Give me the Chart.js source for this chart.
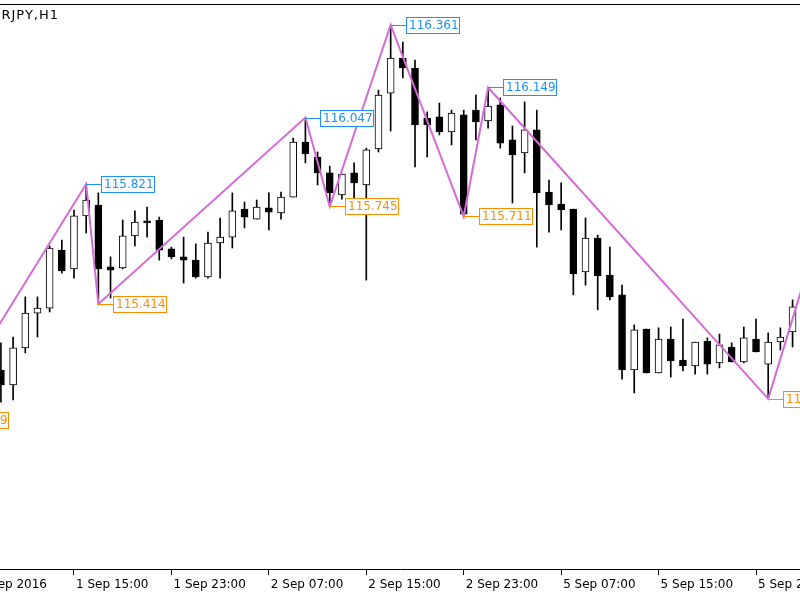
<!DOCTYPE html>
<html>
<head>
<meta charset="utf-8">
<title>EURJPY,H1</title>
<script src="https://cdn.jsdelivr.net/npm/chart.js@4.4.1/dist/chart.umd.min.js"></script>
<style>
  html, body { margin: 0; padding: 0; background: #fff; }
  #wrap { width: 800px; height: 600px; }
</style>
</head>
<body>
<div id="wrap"><canvas id="chart"></canvas></div>
<script>
// EURJPY H1 candles, bar 0 = 1 Sep 15:00, first candle on screen = 1 Sep 09:00
const symbolTitle = 'EURJPY,H1';
const firstBar = -6;

const opens  = [115.190, 115.139, 115.265, 115.383, 115.400, 115.597, 115.533, 115.713, 115.750, 115.540,
                115.536, 115.645, 115.696, 115.699, 115.601, 115.574, 115.563, 115.506, 115.621, 115.641,
                115.736, 115.702, 115.740, 115.723, 115.777, 115.964, 115.913, 115.859, 115.784, 115.859,
                115.818, 115.940, 116.130, 116.249, 116.215, 116.045, 116.049, 115.998, 116.056, 116.072,
                116.035, 116.090, 115.971, 115.927, 116.005, 115.794, 115.753, 115.736, 115.523, 115.638,
                115.512, 115.445, 115.190, 115.329, 115.180, 115.295, 115.224, 115.204, 115.288, 115.214,
                115.268, 115.217, 115.295, 115.210, 115.285, 115.319];
const highs  = [115.282, 115.302, 115.438, 115.438, 115.611, 115.631, 115.733, 115.821, 115.791, 115.574,
                115.699, 115.730, 115.743, 115.709, 115.607, 115.641, 115.618, 115.658, 115.706, 115.791,
                115.760, 115.767, 115.791, 115.794, 115.977, 116.047, 115.930, 115.882, 115.855, 115.893,
                115.943, 116.140, 116.361, 116.303, 116.242, 116.066, 116.096, 116.072, 116.072, 116.123,
                116.149, 116.113, 116.018, 116.100, 116.072, 115.835, 115.825, 115.736, 115.706, 115.648,
                115.607, 115.478, 115.343, 115.329, 115.333, 115.336, 115.363, 115.285, 115.299, 115.312,
                115.282, 115.336, 115.363, 115.316, 115.333, 115.428];
const lows   = [115.081, 115.088, 115.248, 115.302, 115.387, 115.519, 115.502, 115.655, 115.414, 115.434,
                115.533, 115.611, 115.641, 115.563, 115.567, 115.485, 115.502, 115.502, 115.502, 115.604,
                115.672, 115.702, 115.665, 115.702, 115.777, 115.893, 115.818, 115.745, 115.770, 115.770,
                115.495, 115.930, 116.001, 116.181, 115.879, 115.913, 115.988, 115.954, 115.711, 115.971,
                116.011, 115.943, 115.757, 115.859, 115.607, 115.658, 115.665, 115.445, 115.478, 115.394,
                115.428, 115.159, 115.112, 115.180, 115.180, 115.166, 115.187, 115.176, 115.176, 115.197,
                115.217, 115.214, 115.251, 115.092, 115.258, 115.268];
const closes = [115.139, 115.265, 115.383, 115.400, 115.604, 115.526, 115.713, 115.767, 115.533, 115.529,
                115.645, 115.692, 115.689, 115.597, 115.574, 115.563, 115.506, 115.621, 115.641, 115.730,
                115.709, 115.743, 115.726, 115.777, 115.964, 115.923, 115.859, 115.791, 115.855, 115.825,
                115.937, 116.123, 116.249, 116.215, 116.022, 116.022, 115.998, 116.062, 115.719, 116.032,
                116.086, 115.960, 115.920, 116.005, 115.791, 115.750, 115.733, 115.516, 115.638, 115.509,
                115.438, 115.190, 115.326, 115.180, 115.295, 115.221, 115.204, 115.285, 115.210, 115.275,
                115.217, 115.299, 115.251, 115.285, 115.302, 115.404];

// time axis
const tickBars   = [-8, 0, 8, 16, 24, 32, 40, 48, 56];
const tickLabels = ['1 Sep 2016', '1 Sep 15:00', '1 Sep 23:00', '2 Sep 07:00', '2 Sep 15:00',
                    '2 Sep 23:00', '5 Sep 07:00', '5 Sep 15:00', '5 Sep 23:00'];

// zigzag turning points
const zzBars   = [-11, 1, 2, 19, 21, 26, 32, 34, 57, 61];
const zzPrices = [115.019, 115.821, 115.414, 116.047, 115.745, 116.361, 115.711, 116.149, 115.092, 115.636];

const bodyData = opens.map((o, i) => ({ x: firstBar + i, y: [o, closes[i]] }));
const wickData = lows.map((l, i) => ({ x: firstBar + i, y: [l, highs[i]] }));
const bodyColors = opens.map((o, i) => closes[i] >= o ? '#ffffff' : '#000000');
const zzData = zzBars.map((b, i) => ({ x: b, y: zzPrices[i] }));

const FONT = '"DejaVu Sans", sans-serif';

// price labels at zigzag points + frame and title
const zigzagLabels = {
    id: 'zigzagLabels',
    afterDatasetsDraw(chart) {
        const { ctx, scales: { x, y } } = chart;
        ctx.save();
        ctx.font = '12px ' + FONT;
        ctx.textBaseline = 'middle';
        ctx.lineWidth = 1;
        zzPrices.forEach((p, i) => {
            const ref = i > 0 ? zzPrices[i - 1] : zzPrices[i + 1];
            const col = p > ref ? '#1e90ff' : '#ff8c00';
            const px = Math.round(x.getPixelForValue(zzBars[i]));
            const py = Math.round(y.getPixelForValue(p));
            ctx.strokeStyle = col;
            ctx.beginPath();
            ctx.moveTo(px, py + 0.5);
            ctx.lineTo(px + 15, py + 0.5);
            ctx.stroke();
            ctx.fillStyle = '#fff';
            ctx.fillRect(px + 15, py - 8, 54, 17);
            ctx.strokeRect(px + 15.5, py - 7.5, 53, 16);
            ctx.fillStyle = col;
            ctx.fillText(p.toFixed(3), px + 18, py + 1);
        });
        ctx.restore();
    },
    afterDraw(chart) {
        const { ctx, chartArea } = chart;
        ctx.save();
        ctx.strokeStyle = '#000';
        ctx.lineWidth = 1;
        ctx.beginPath();
        ctx.moveTo(0, chartArea.top + 0.5);
        ctx.lineTo(chart.width, chartArea.top + 0.5);
        ctx.stroke();
        ctx.font = '13px ' + FONT;
        ctx.letterSpacing = '1px';
        ctx.fillStyle = '#000';
        ctx.textAlign = 'right';
        ctx.textBaseline = 'middle';
        ctx.fillText(symbolTitle, 59, 16);
        ctx.restore();
    }
};

new Chart(document.getElementById('chart'), {
    type: 'bar',
    data: {
        datasets: [
            {
                type: 'line',
                data: zzData,
                borderColor: '#d56ad8',
                borderWidth: 2,
                pointRadius: 0,
                tension: 0
            },
            {
                data: bodyData,
                backgroundColor: bodyColors,
                borderColor: '#000',
                borderWidth: 1,
                borderSkipped: false,
                barThickness: 7,
                grouped: false
            },
            {
                data: wickData,
                backgroundColor: '#000',
                borderWidth: 0,
                barThickness: 1,
                grouped: false
            }
        ]
    },
    options: {
        responsive: true,
        maintainAspectRatio: false,
        animation: false,
        devicePixelRatio: 1,
        layout: { padding: { top: 4, left: 0, right: 0, bottom: 0 } },
        plugins: { legend: { display: false }, tooltip: { enabled: false } },
        scales: {
            x: {
                type: 'linear',
                offset: false,
                min: -6.076,
                max: 59.611,
                afterBuildTicks: s => { s.ticks = tickBars.map(v => ({ value: v })); },
                afterFit: s => { s.height = 31; s.paddingLeft = 0; s.paddingRight = 0; },
                grid: { offset: false, drawOnChartArea: false, drawTicks: true, tickLength: 6, color: '#000' },
                border: { display: true, color: '#000', width: 1 },
                ticks: {
                    autoSkip: false,
                    maxRotation: 0,
                    align: 'start',
                    labelOffset: 2,
                    padding: 3,
                    color: '#000',
                    font: { family: FONT, size: 12 },
                    callback: (v, i) => tickLabels[i]
                }
            },
            y: {
                display: false,
                min: 114.5144,
                max: 116.4323
            }
        }
    },
    plugins: [zigzagLabels]
});
</script>
</body>
</html>
